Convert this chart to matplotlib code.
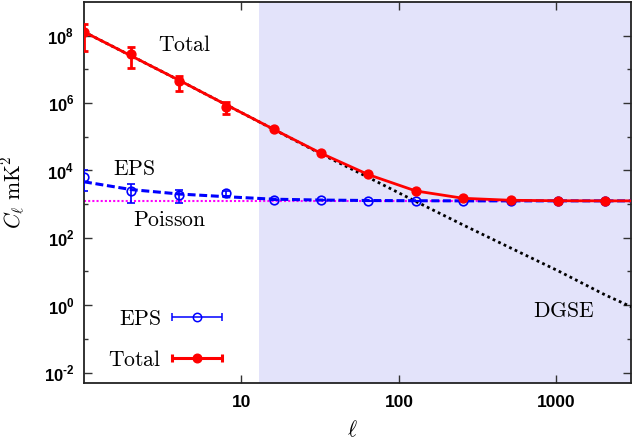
import numpy as np
import matplotlib
matplotlib.use('Agg')
import matplotlib.pyplot as plt
from matplotlib.ticker import FixedLocator, FuncFormatter, NullLocator, NullFormatter
from matplotlib.legend_handler import HandlerErrorbar
from matplotlib.container import ErrorbarContainer

plt.rcParams['mathtext.fontset'] = 'custom'
plt.rcParams['mathtext.bf'] = 'Liberation Sans:bold'
plt.rcParams['mathtext.rm'] = 'Liberation Sans:bold'
plt.rcParams['font.family'] = ['Liberation Sans', 'DejaVu Sans']

# ---------------- data ----------------
ell = [1, 2, 4, 8, 16, 32, 64, 128, 256, 512, 1024, 2048]
total_vals = [1.3e8, 2.9e7, 4.4e6, 7.9e5, 1.7e5, 3.2e4, 7.7e3, 2.5e3, 1.5e3, 1.3e3, 1.27e3, 1.27e3]
total_err = [9.5e7, 1.8e7, 2.1e6, 3.2e5, 0, 0, 0, 0, 0, 0, 0, 0]
eps_vals = [6.4e3, 2.5e3, 1.85e3, 2.1e3, 1.3e3, 1.3e3, 1.28e3, 1.27e3, 1.26e3, 1.25e3, 1.25e3, 1.25e3]
eps_err = [4.0e3, 1.4e3, 8.0e2, 3.0e2, 0, 0, 0, 0, 0, 0, 0, 0]

model_ell = [1, 2, 4, 8, 16, 32, 64, 128, 256, 512, 1024, 2048, 3000]
dgse_model = [1.3e8, 2.5e7, 4.8e6, 8.9e5, 1.66e5, 3.1e4, 6.2e3, 1.2e3, 2.4e2, 50, 10.5, 2.0, 0.89]
eps_model = [4.6e3, 2.7e3, 2.0e3, 1.66e3, 1.4e3, 1.32e3, 1.28e3, 1.26e3, 1.25e3, 1.25e3, 1.25e3, 1.25e3, 1.25e3]
total_model = [1.3e8, 2.5e7, 4.8e6, 8.9e5, 1.67e5, 3.23e4, 7.5e3, 2.46e3, 1.49e3, 1.30e3, 1.26e3, 1.25e3, 1.25e3]
poisson_level = 1.25e3
ell_range = [1, 3000]
fg_cut = 13
y_range = [5e-3, 1e9]

# ---------------- figure ----------------
fig = plt.figure(figsize=(6.32, 4.42), dpi=100)
ax = fig.add_axes([84/632, 59.3/442, (631.5-84)/632, (440-59.3)/442])
ax.set_xscale('log')
ax.set_yscale('log')
ax.set_xlim(ell_range)
ax.set_ylim(y_range)

ax.axvspan(fg_cut, ell_range[1], color='#e3e3fa', lw=0, zorder=0)

ax.plot(ell_range, [poisson_level, poisson_level], color='#ff00ff', lw=1.5,
        linestyle=(0, (1, 1)), zorder=2)
ax.plot(model_ell, dgse_model, color='black', lw=2.0, linestyle=(0, (1, 1.2)), zorder=3)
ax.plot(model_ell, eps_model, color='blue', lw=2.2, linestyle=(0, (2.6, 1.2)), zorder=4)
ax.errorbar(ell, eps_vals, yerr=eps_err, fmt='o', mfc='none', mec='blue', ms=6.2, mew=1.2,
            ecolor='blue', elinewidth=1.2, capsize=2.8, capthick=1.2, zorder=5)
ax.plot(model_ell, total_model, color='red', lw=2.0, zorder=6)
ax.errorbar(ell, total_vals, yerr=total_err, fmt='o', mfc='red', mec='red', ms=6.4,
            ecolor='red', elinewidth=2.0, capsize=2.8, capthick=2.0, zorder=7)

# ---------------- ticks ----------------
ax.xaxis.set_major_locator(FixedLocator([10, 100, 1000]))
ax.xaxis.set_minor_locator(NullLocator())
ax.xaxis.set_major_formatter(FuncFormatter(lambda v, p: '%d' % round(v)))
ax.yaxis.set_major_locator(FixedLocator([1e-2, 1e0, 1e2, 1e4, 1e6, 1e8]))
ax.yaxis.set_minor_locator(FixedLocator([1e-1, 1e1, 1e3, 1e5, 1e7]))
ax.yaxis.set_minor_formatter(NullFormatter())


def ylab(v, p):
    e = int(round(np.log10(v)))
    es = r'\text{-}%d' % abs(e) if e < 0 else '%d' % e
    return r'$\mathbf{10}^{%s}$' % es


ax.yaxis.set_major_formatter(FuncFormatter(ylab))
ax.tick_params(axis='both', which='major', direction='in', length=5.5, width=1.0,
               top=True, right=True, color='#333333')
ax.tick_params(axis='y', which='minor', direction='in', length=2.8, width=1.0,
               left=True, right=True, color='#333333')
ax.tick_params(axis='x', which='major', labelsize=12.5, pad=9)
ax.tick_params(axis='y', which='major', labelsize=12, pad=7)
for lab in ax.get_xticklabels():
    lab.set_fontweight('bold')
for s in ax.spines.values():
    s.set_linewidth(1.3)
    s.set_color('#222222')

# ---------------- labels ----------------
ax.set_xlabel(r'$\ell$', fontsize=15.5, math_fontfamily='cm')
ax.xaxis.set_label_coords(0.49, -0.098)
ax.set_ylabel(r'$C_\ell\ \mathrm{mK}^2$', fontsize=15.5, math_fontfamily='cm')
ax.yaxis.set_label_coords(-0.102, 0.5)

fs = 15.6
ax.text(0.184, 0.887, r'$\mathrm{Total}$', transform=ax.transAxes, ha='center', va='center',
        fontsize=fs, math_fontfamily='cm')
ax.text(0.091, 0.559, r'$\mathrm{EPS}$', transform=ax.transAxes, ha='center', va='center',
        fontsize=fs, math_fontfamily='cm')
ax.text(0.157, 0.425, r'$\mathrm{Poisson}$', transform=ax.transAxes, ha='center', va='center',
        fontsize=fs, math_fontfamily='cm')
ax.text(0.876, 0.186, r'$\mathrm{DGSE}$', transform=ax.transAxes, ha='center', va='center',
        fontsize=fs, math_fontfamily='cm')

# ---------------- legend ----------------
eps_proxy = ax.errorbar([np.nan], [np.nan], xerr=[1.0], fmt='o', mfc='none', mec='blue', ms=6,
                        mew=1.1, ecolor='blue', elinewidth=1.1, capsize=3, capthick=1.1)
tot_proxy = ax.errorbar([np.nan], [np.nan], xerr=[1.0], fmt='o', mfc='red', mec='red', ms=6.2,
                        ecolor='red', elinewidth=2.2, capsize=3, capthick=2.2)
leg = ax.legend([eps_proxy, tot_proxy], [r'$\mathrm{EPS}$', r'$\mathrm{Total}$'],
                handler_map={ErrorbarContainer: HandlerErrorbar(xerr_size=1.17, numpoints=1)},
                loc='center', bbox_to_anchor=(0.149, 0.113), frameon=False, markerfirst=False,
                fontsize=fs, handlelength=2.4, handletextpad=0.45, labelspacing=0.92,
                borderpad=0, borderaxespad=0)
for t in leg.get_texts():
    t.set_math_fontfamily('cm')

fig.savefig('out.png', dpi=100)
